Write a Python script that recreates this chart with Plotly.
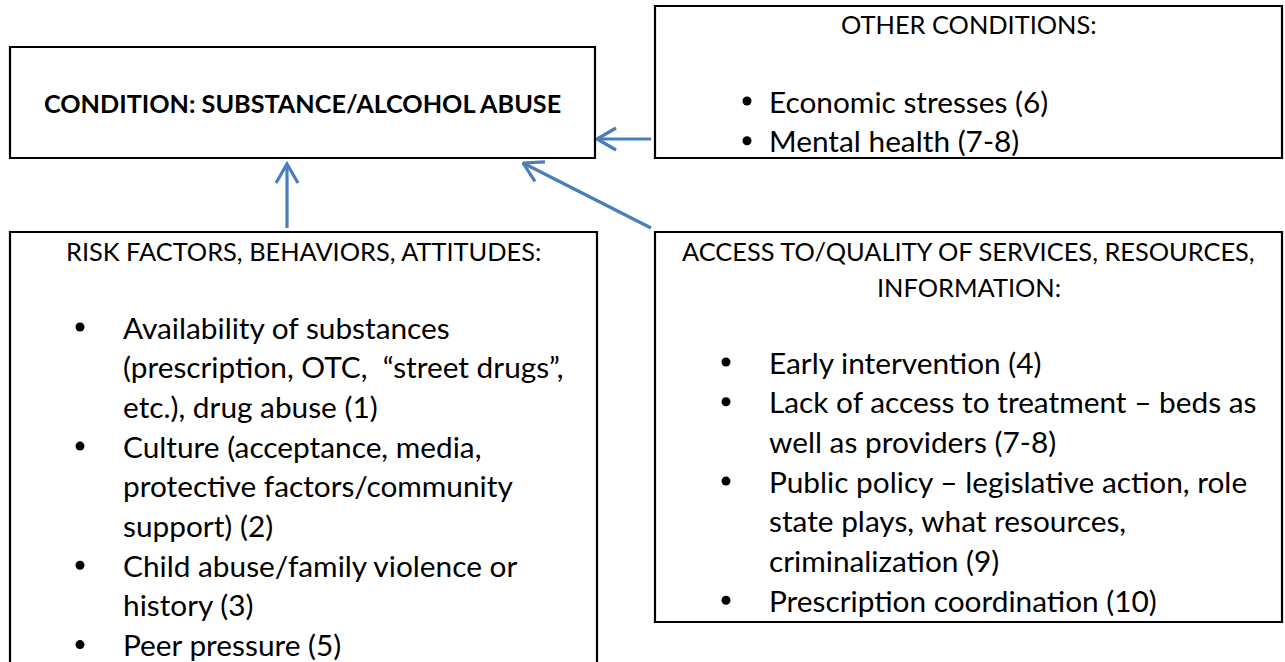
import math
import plotly.graph_objects as go

# ---------------- content ----------------
condition_title = "CONDITION: SUBSTANCE/ALCOHOL ABUSE"

other_title = ["OTHER CONDITIONS:"]
other_items = [
    ["Economic stresses (6)"],
    ["Mental health (7-8)"],
]

risk_title = ["RISK FACTORS, BEHAVIORS, ATTITUDES:"]
risk_items = [
    ["Availability of substances", "(prescription, OTC,\u00a0 \u201cstreet drugs\u201d,", "etc.), drug abuse (1)"],
    ["Culture (acceptance, media,", "protective factors/community", "support) (2)"],
    ["Child abuse/family violence or", "history (3)"],
    ["Peer pressure (5)"],
]

access_title = ["ACCESS TO/QUALITY OF SERVICES, RESOURCES,", "INFORMATION:"]
access_items = [
    ["Early intervention (4)"],
    ["Lack of access to treatment \u2013 beds as", "well as providers (7-8)"],
    ["Public policy \u2013 legislative action, role", "state plays, what resources,", "criminalization (9)"],
    ["Prescription coordination (10)"],
]

# ---------------- layout / style ----------------
W, H = 1285, 662
FONT = "Lato, Carlito, Calibri, sans-serif"
FS_BODY = 29.8
FS_HEAD = 25.4
FS_BOLD = 25.2
LINE = 39.7
ARROW_COLOR = "#4A7EBB"

boxes = {
    "condition": (10, 47, 595, 158),
    "other": (655, 6, 1282, 158),
    "risk": (10, 232, 597, 700),
    "access": (655, 232, 1282, 622),
}

# (tail, head)
arrows = [
    ((651, 139), (597, 139)),
    ((287, 228), (287, 164)),
    ((651, 228), (523, 163)),
]

fig = go.Figure()
shapes = []
annotations = []

for (x0, y0, x1, y1) in boxes.values():
    shapes.append(dict(type="rect", xref="x", yref="y", x0=x0, y0=y0, x1=x1, y1=y1,
                       line=dict(color="black", width=2.2), fillcolor="rgba(0,0,0,0)"))


def text(x, y, s, size, anchor="left", bold=False):
    annotations.append(dict(x=x, y=y, xref="x", yref="y", text=(f"<b>{s}</b>" if bold else s),
                            showarrow=False, xanchor=anchor, yanchor="middle",
                            font=dict(family=FONT, size=size, color="black")))


def bullet_block(items, y_first, x_bullet, x_text):
    bx, by = [], []
    i = 0
    for item in items:
        bx.append(x_bullet)
        by.append(y_first + i * LINE)
        for ln in item:
            text(x_text, y_first + i * LINE, ln, FS_BODY)
            i += 1
    fig.add_trace(go.Scatter(x=bx, y=by, mode="markers", hoverinfo="skip",
                             marker=dict(size=9, color="black"), showlegend=False))


def title_block(lines, cx, y_first):
    for k, ln in enumerate(lines):
        text(cx, y_first + k * (LINE - 4), ln, FS_HEAD, anchor="center")


# condition box
b = boxes["condition"]
text((b[0] + b[2]) / 2, 103, condition_title, FS_BOLD, anchor="center", bold=True)

# other conditions
b = boxes["other"]
title_block(other_title, (b[0] + b[2]) / 2, 24)
bullet_block(other_items, 101, 747, 767)

# risk factors
b = boxes["risk"]
title_block(risk_title, (b[0] + b[2]) / 2, 251)
bullet_block(risk_items, 327, 80, 121)

# access
b = boxes["access"]
title_block(access_title, (b[0] + b[2]) / 2, 251)
bullet_block(access_items, 362, 726, 767)

# arrows: shaft + open chevron head
ARM = 22
HALF = math.radians(30)
for (tx, ty), (hx, hy) in arrows:
    ang = math.atan2(ty - hy, tx - hx)  # pointing from head back to tail
    a1 = (hx + ARM * math.cos(ang + HALF), hy + ARM * math.sin(ang + HALF))
    a2 = (hx + ARM * math.cos(ang - HALF), hy + ARM * math.sin(ang - HALF))
    fig.add_trace(go.Scatter(x=[tx, hx], y=[ty, hy], mode="lines", hoverinfo="skip",
                             line=dict(color=ARROW_COLOR, width=3.2), showlegend=False))
    fig.add_trace(go.Scatter(x=[a1[0], hx, a2[0]], y=[a1[1], hy, a2[1]], mode="lines",
                             hoverinfo="skip", line=dict(color=ARROW_COLOR, width=3.2),
                             showlegend=False))

fig.update_layout(
    width=W, height=H,
    margin=dict(l=0, r=0, t=0, b=0),
    paper_bgcolor="white", plot_bgcolor="white",
    xaxis=dict(range=[0, W], visible=False, fixedrange=True),
    yaxis=dict(range=[H, 0], visible=False, fixedrange=True),
    shapes=shapes, annotations=annotations, showlegend=False,
)

fig.write_html("out.html", config={"displayModeBar": False},
               post_script="document.body.style.margin='0';document.body.style.overflow='hidden';")
